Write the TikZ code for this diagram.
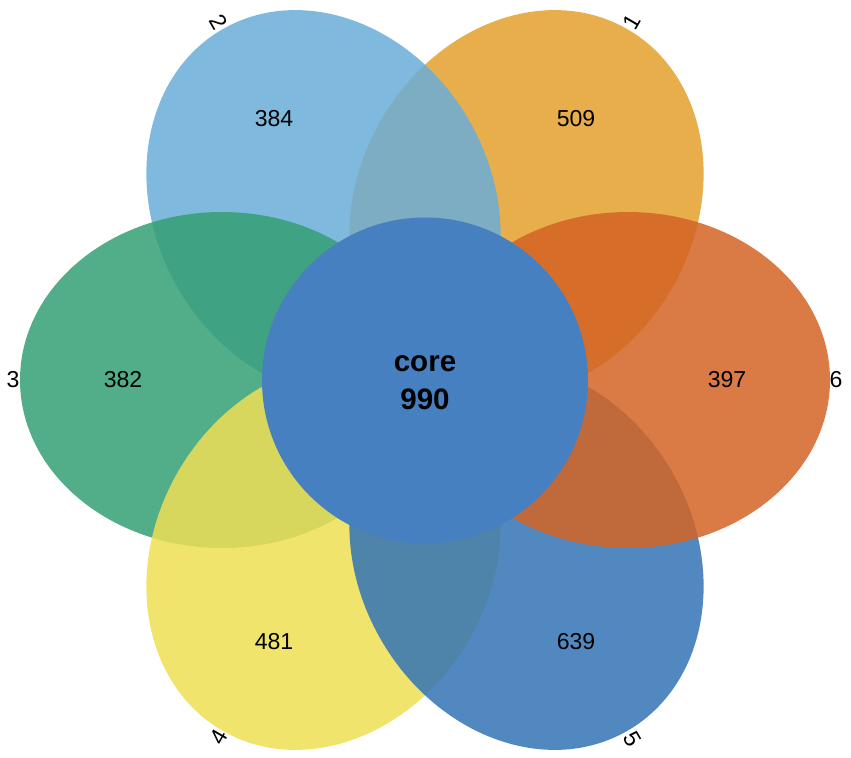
\documentclass[tikz,border=0pt]{standalone}
\usepackage{fontspec}
\setmainfont{Liberation Sans}
\usepackage{tikz}

\definecolor{petalA}{RGB}{228,160,43}
\definecolor{petalB}{RGB}{106,173,216}
\definecolor{petalC}{RGB}{52,159,116}
\definecolor{petalD}{RGB}{237,223,84}
\definecolor{petalE}{RGB}{51,115,181}
\definecolor{petalF}{RGB}{211,99,36}
\definecolor{corefill}{RGB}{70,128,192}

\tikzset{
  petal/.style={fill opacity=0.85},
  count/.style={font=\fontsize{16.4}{19}\selectfont},
  setname/.style={font=\fontsize{16.4}{19}\selectfont, inner sep=0pt},
  corelabel/.style={font=\fontsize{21}{25}\selectfont\bfseries, align=center}
}

\begin{document}
\begin{tikzpicture}[x=0.025cm, y=0.025cm]
            \useasboundingbox (-425,-378) rectangle (426,380);
            % petals, one per genome
            \foreach \ang/\col in {60/petalA, 120/petalB, 180/petalC, 240/petalD, 300/petalE, 0/petalF}
            {
              \begin{scope}[rotate=\ang]
                \fill[petal, \col] (203,0) ellipse (202 and 168);
              \end{scope}
            }
            % core
            \fill[corefill] (0,-0.5) circle (163);
            \node[corelabel] (core) at (0,-3) {core\\[2pt]990};
            % unique counts
            \node[count] (n1) at (60:302) {509};
            \node[count] (n2) at (120:302) {384};
            \node[count] (n3) at (180:302) {382};
            \node[count] (n4) at (240:302) {481};
            \node[count] (n5) at (300:302) {639};
            \node[count] (n6) at (0:302) {397};
            % genome names
            \node[setname, rotate=60] (s1) at (60:413) {1};
            \node[setname, rotate=-60] (s2) at (120:413) {2};
            \node[setname] (s3) at (180:412) {3};
            \node[setname, rotate=60] (s4) at (240:412) {4};
            \node[setname, rotate=-60] (s5) at (300:415) {5};
            \node[setname] (s6) at (0:411) {6};
\end{tikzpicture}
\end{document}
